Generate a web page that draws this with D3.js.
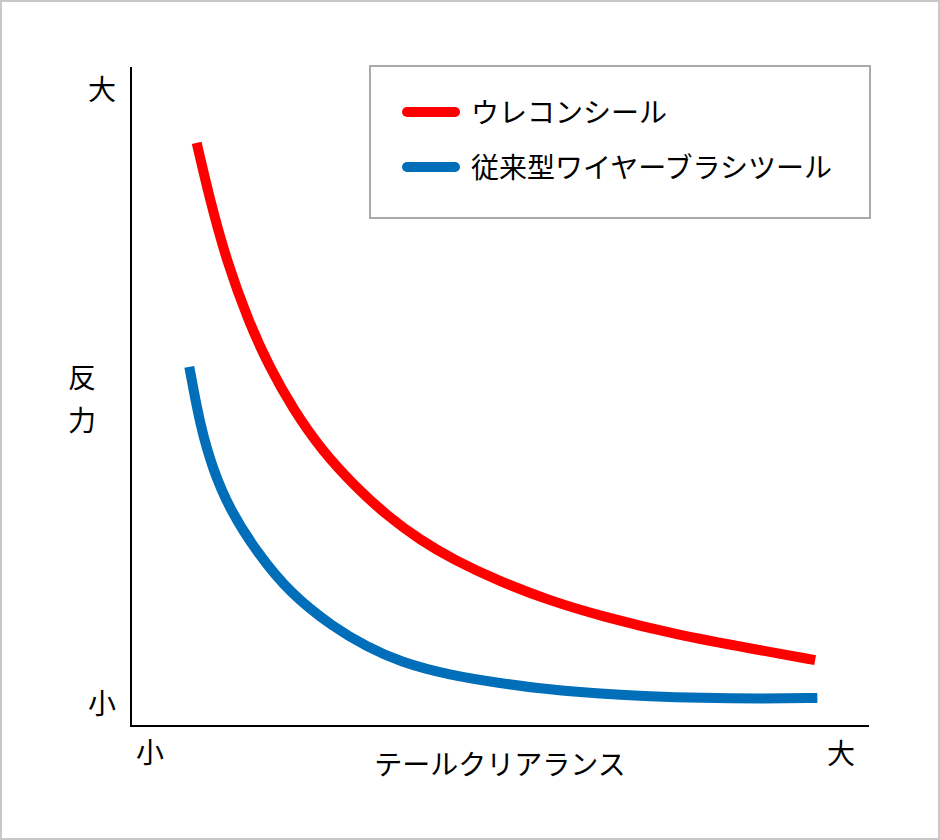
<!DOCTYPE html>
<html lang="ja">
<head>
<meta charset="UTF-8">
<title>反力とテールクリアランス</title>
<script src="https://d3js.org/d3.v7.min.js"></script>
<style>
    body { margin: 0; background: #fff; }
    text { font-family: "Noto Sans CJK JP", "Noto Sans", sans-serif; fill: #000; }
</style>
</head>
<body>
<div id="chart"></div>
<script>
    // テールクリアランス (0 = 小, 100 = 大), 反力 (0 = 小, 100 = 大)
    const clearanceRed = [8.9, 10.7, 13, 15.9, 18.6, 22, 25.8, 30.4, 34.7, 39.2, 43.6, 50, 56.8, 63.6, 74, 84.3, 92.7];
    const forceRed = [88.5, 79.8, 70.4, 61.5, 54.8, 48, 41.9, 36.3, 31.9, 28.2, 25.3, 21.9, 19, 16.7, 13.8, 11.7, 10];
    const clearanceBlue = [7.9, 9.4, 11.1, 13.4, 17.1, 21.5, 27.4, 32, 36.5, 43.2, 50, 56.8, 63.6, 70.3, 77.1, 85.2, 93];
    const forceBlue = [54.5, 45.4, 38.9, 32.8, 26.3, 20.2, 15, 12, 9.7, 7.7, 6.5, 5.5, 4.9, 4.5, 4.25, 4.15, 4.25];

    const seriesNames = ["ウレコンシール", "従来型ワイヤーブラシツール"];
    const seriesColors = ["#ff0000", "#006eb8"];
    const yLabels = ["小", "大"];
    const xLabels = ["小", "大"];
    const yTitle = "反力";
    const xTitle = "テールクリアランス";

    const width = 940, height = 840;
    const margin = { top: 67, right: 71, bottom: 114, left: 131 };

    const svg = d3.select("#chart").append("svg")
        .attr("width", width)
        .attr("height", height);

    // outer frame
    svg.append("rect")
        .attr("x", 1).attr("y", 1)
        .attr("width", width - 2).attr("height", height - 2)
        .attr("fill", "#fff")
        .attr("stroke", "#c8c8c8")
        .attr("stroke-width", 2);

    const x = d3.scaleLinear().domain([0, 100]).range([margin.left, width - margin.right]);
    const y = d3.scaleLinear().domain([0, 100]).range([height - margin.bottom, margin.top]);

    // axes (plain lines, no ticks)
    svg.append("line")
        .attr("x1", x(0)).attr("x2", x(0))
        .attr("y1", y(100)).attr("y2", y(0))
        .attr("stroke", "#000").attr("stroke-width", 2);
    svg.append("line")
        .attr("x1", x(0) - 1).attr("x2", x(100))
        .attr("y1", y(0)).attr("y2", y(0))
        .attr("stroke", "#000").attr("stroke-width", 2);

    // smooth curves through the read-off points
    const line = d3.line()
        .x(d => x(d[0]))
        .y(d => y(d[1]))
        .curve(d3.curveBasis);

    const series = [
        d3.zip(clearanceRed, forceRed),
        d3.zip(clearanceBlue, forceBlue)
    ];

    svg.selectAll(".curve")
        .data(series)
        .enter()
        .append("path")
        .attr("class", "curve")
        .attr("d", line)
        .attr("fill", "none")
        .attr("stroke", (d, i) => seriesColors[i])
        .attr("stroke-width", 10)
        .attr("stroke-linecap", "butt");

    // y labels
    svg.append("text")
        .attr("x", 102).attr("y", y(0) - 12)
        .attr("text-anchor", "middle")
        .attr("font-size", 28)
        .text(yLabels[0]);
    svg.append("text")
        .attr("x", 102).attr("y", y(100) + 33)
        .attr("text-anchor", "middle")
        .attr("font-size", 28)
        .text(yLabels[1]);

    // vertical axis title
    svg.selectAll(".ytitle")
        .data(yTitle.split(""))
        .enter()
        .append("text")
        .attr("class", "ytitle")
        .attr("x", 82)
        .attr("y", (d, i) => 388 + i * 43)
        .attr("text-anchor", "middle")
        .attr("font-size", 28)
        .text(d => d);

    // x labels
    svg.append("text")
        .attr("x", 150).attr("y", y(0) + 37)
        .attr("text-anchor", "middle")
        .attr("font-size", 28)
        .text(xLabels[0]);
    svg.append("text")
        .attr("x", 841).attr("y", y(0) + 38)
        .attr("text-anchor", "middle")
        .attr("font-size", 28)
        .text(xLabels[1]);
    svg.append("text")
        .attr("x", 500).attr("y", 775)
        .attr("text-anchor", "middle")
        .attr("font-size", 28)
        .text(xTitle);

    // legend
    const legend = svg.append("g");
    legend.append("rect")
        .attr("x", 370).attr("y", 66)
        .attr("width", 500).attr("height", 152)
        .attr("fill", "#fff")
        .attr("stroke", "#aaa")
        .attr("stroke-width", 2);

    const items = legend.selectAll(".item")
        .data(seriesNames)
        .enter()
        .append("g")
        .attr("class", "item")
        .attr("transform", (d, i) => `translate(0,${112 + i * 55})`);

    items.append("line")
        .attr("x1", 407).attr("x2", 455)
        .attr("y1", 0).attr("y2", 0)
        .attr("stroke", (d, i) => seriesColors[i])
        .attr("stroke-width", 10)
        .attr("stroke-linecap", "round");

    items.append("text")
        .attr("x", 471).attr("y", 11)
        .attr("font-size", 28)
        .text(d => d);
</script>
</body>
</html>
